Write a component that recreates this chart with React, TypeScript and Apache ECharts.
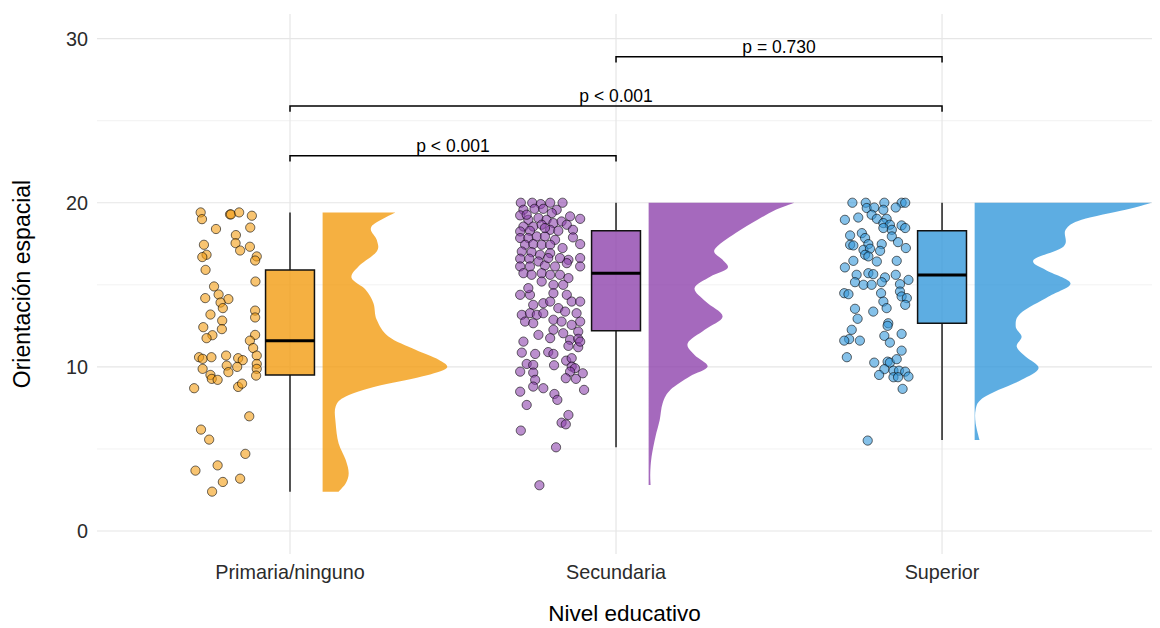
import React, { useEffect, useRef } from "react";
import * as echarts from "echarts";

const categories = ["Primaria/ninguno", "Secundaria", "Superior"];
const colors = ["#F39C12", "#8E44AD", "#3498DB"];
const yTickValues = [0, 10, 20, 30];
const yMinorGrid = [5, 15, 25];
const xGridValues = [1, 2, 3];

// jittered points: [x position (category units), Orientación espacial]
const primariaPoints: [number, number][] = [
  [0.726, 19.41], [0.730, 19.0], [0.816, 19.29], [0.819, 19.29], [0.844, 19.41], [0.883, 19.21],
  [0.773, 18.4], [0.878, 18.49], [0.834, 18.03], [0.833, 17.54], [0.847, 17.09], [0.877, 17.32],
  [0.736, 17.44], [0.744, 16.83], [0.731, 16.69], [0.898, 16.73], [0.893, 16.48], [0.741, 15.91],
  [0.894, 15.2], [0.767, 14.9], [0.740, 14.19], [0.781, 14.41], [0.811, 14.13], [0.787, 13.92],
  [0.794, 13.58], [0.893, 13.43], [0.893, 13.01], [0.756, 13.19], [0.792, 12.82], [0.734, 12.42],
  [0.791, 12.3], [0.762, 11.93], [0.744, 11.75], [0.893, 11.95], [0.877, 11.6], [0.887, 11.15],
  [0.721, 10.59], [0.732, 10.49], [0.759, 10.59], [0.804, 10.69], [0.841, 10.53], [0.855, 10.41],
  [0.898, 10.69], [0.806, 10.08], [0.838, 10.0], [0.898, 10.18], [0.898, 9.88], [0.732, 9.88],
  [0.811, 9.68], [0.896, 9.47], [0.756, 9.51], [0.760, 9.27], [0.778, 9.21], [0.841, 8.78],
  [0.853, 8.98], [0.706, 8.7], [0.875, 6.99], [0.727, 6.18], [0.752, 5.57], [0.863, 4.7],
  [0.778, 4.0], [0.710, 3.68], [0.794, 2.99], [0.847, 3.19], [0.761, 2.4],
];

const secundariaPoints: [number, number][] = [
  [1.708, 20.0], [1.743, 20.0], [1.769, 19.92], [1.798, 20.0], [1.836, 20.0], [1.716, 19.57],
  [1.750, 19.63], [1.777, 19.63], [1.818, 19.57], [1.803, 19.37], [1.706, 19.23], [1.731, 18.96],
  [1.762, 19.07], [1.787, 18.96], [1.859, 19.17], [1.890, 19.02], [1.716, 18.55], [1.746, 18.55],
  [1.772, 18.66], [1.808, 18.76], [1.833, 18.86], [1.849, 18.66], [1.706, 18.25], [1.736, 18.29],
  [1.798, 18.35], [1.823, 18.29], [1.868, 18.35], [1.706, 17.85], [1.731, 17.85], [1.757, 17.95],
  [1.782, 17.95], [1.813, 17.74], [1.868, 17.89], [1.721, 17.44], [1.746, 17.48], [1.772, 17.44],
  [1.798, 17.44], [1.890, 17.48], [1.836, 17.24], [1.711, 17.03], [1.741, 16.99], [1.767, 16.83],
  [1.798, 16.93], [1.706, 16.59], [1.734, 16.59], [1.762, 16.42], [1.854, 16.52], [1.890, 16.63],
  [1.706, 16.12], [1.736, 16.12], [1.782, 16.18], [1.813, 16.12], [1.849, 16.32], [1.890, 16.12],
  [1.716, 15.71], [1.741, 15.61], [1.772, 15.71], [1.798, 15.61], [1.828, 15.61], [1.854, 15.41],
  [1.772, 15.2], [1.808, 15.0], [1.838, 15.0], [1.706, 14.39], [1.736, 14.39], [1.808, 14.49],
  [1.849, 14.39], [1.746, 13.78], [1.777, 13.88], [1.823, 13.58], [1.864, 13.98], [1.890, 13.98],
  [1.711, 13.17], [1.736, 13.27], [1.757, 13.17], [1.777, 13.27], [1.844, 13.37], [1.721, 12.76],
  [1.746, 12.66], [1.808, 12.87], [1.833, 12.76], [1.890, 12.76], [1.864, 12.56], [1.762, 11.95],
  [1.808, 12.26], [1.838, 12.05], [1.884, 12.15], [1.859, 11.65], [1.884, 11.71], [1.711, 10.87],
  [1.752, 10.79], [1.792, 10.9], [1.808, 10.79], [1.854, 11.28], [1.884, 11.2], [1.726, 10.18],
  [1.746, 10.12], [1.810, 10.1], [1.847, 10.38], [1.864, 10.53], [1.864, 10.02], [1.874, 9.92],
  [1.706, 9.71], [1.746, 9.65], [1.859, 9.71], [1.898, 9.61], [1.752, 9.21], [1.846, 9.31],
  [1.877, 9.27], [1.746, 8.8], [1.777, 8.7], [1.706, 8.49], [1.902, 8.6], [1.811, 8.35],
  [1.820, 7.99], [1.726, 7.68], [1.854, 7.07], [1.833, 6.6], [1.846, 6.5], [1.708, 6.12],
  [1.816, 5.1], [1.765, 2.79], [1.792, 16.63], [1.828, 16.63], [1.731, 14.8], [1.798, 13.98],
  [1.879, 13.27], [1.716, 11.54], [1.798, 11.75], [1.890, 11.54], [1.782, 18.46], [1.726, 19.27],
];

const superiorPoints: [number, number][] = [
  [2.725, 20.0], [2.766, 20.0], [2.823, 20.0], [2.876, 20.0], [2.887, 20.0], [2.769, 19.68],
  [2.792, 19.71], [2.820, 19.57], [2.858, 19.71], [2.743, 19.1], [2.702, 18.96], [2.784, 19.27],
  [2.800, 19.02], [2.830, 19.02], [2.820, 18.76], [2.840, 18.66], [2.876, 18.62], [2.887, 18.46],
  [2.820, 18.46], [2.846, 18.35], [2.754, 18.15], [2.718, 18.01], [2.764, 17.85], [2.846, 17.95],
  [2.718, 17.44], [2.728, 17.4], [2.774, 17.48], [2.815, 17.48], [2.865, 17.6], [2.759, 17.13],
  [2.779, 17.2], [2.810, 17.07], [2.889, 17.24], [2.764, 16.83], [2.774, 16.73], [2.728, 16.46],
  [2.800, 16.42], [2.861, 16.46], [2.702, 16.06], [2.738, 15.61], [2.774, 15.71], [2.789, 15.65],
  [2.825, 15.45], [2.858, 15.61], [2.733, 15.16], [2.759, 15.0], [2.784, 15.0], [2.815, 15.16],
  [2.871, 15.04], [2.897, 15.3], [2.700, 14.49], [2.713, 14.43], [2.813, 14.49], [2.871, 14.59],
  [2.876, 14.29], [2.892, 14.19], [2.820, 13.98], [2.887, 13.78], [2.733, 13.54], [2.789, 13.37],
  [2.830, 13.58], [2.741, 12.93], [2.835, 12.66], [2.833, 12.5], [2.723, 12.26], [2.715, 11.69],
  [2.700, 11.6], [2.748, 11.6], [2.823, 11.89], [2.840, 11.48], [2.876, 12.01], [2.876, 10.99],
  [2.708, 10.59], [2.792, 10.26], [2.833, 10.32], [2.840, 10.26], [2.861, 10.47], [2.823, 9.86],
  [2.851, 9.77], [2.868, 9.77], [2.887, 9.71], [2.807, 9.51], [2.851, 9.37], [2.865, 9.37],
  [2.897, 9.41], [2.879, 8.66], [2.772, 5.51],
];

// box statistics: [lower whisker, Q1, median, Q3, upper whisker]
const boxStats: number[][] = [
  [2.4, 9.5, 11.6, 15.9, 19.4],
  [5.1, 12.2, 15.7, 18.3, 20.0],
  [5.55, 12.66, 15.6, 18.3, 20.0],
];

// half-violin density: [value, half width in category units]
const primariaDensity: [number, number][] = [
  [19.4, 0.223], [18.55, 0.150], [17.74, 0.166], [17.03, 0.166], [16.12, 0.110], [15.41, 0.089],
  [14.7, 0.132], [13.88, 0.156], [12.87, 0.166], [11.85, 0.202], [11.04, 0.285], [10.43, 0.356],
  [9.92, 0.380], [9.41, 0.304], [8.8, 0.163], [8.19, 0.071], [7.58, 0.040], [6.57, 0.040],
  [5.35, 0.049], [4.33, 0.071], [3.52, 0.080], [2.91, 0.071], [2.4, 0.049],
];
const secundariaDensity: [number, number][] = [
  [20.0, 0.447], [19.57, 0.390], [18.96, 0.334], [18.15, 0.267], [17.13, 0.202], [16.52, 0.227],
  [16.01, 0.242], [15.51, 0.190], [14.8, 0.141], [13.98, 0.175], [13.07, 0.227], [12.26, 0.172],
  [11.44, 0.120], [10.73, 0.141], [10.02, 0.181], [9.41, 0.126], [8.6, 0.067], [7.79, 0.043],
  [6.77, 0.034], [5.75, 0.021], [4.53, 0.009], [3.52, 0.005], [2.8, 0.006],
];
const superiorDensity: [number, number][] = [
  [20.0, 0.543], [19.57, 0.463], [18.96, 0.328], [18.35, 0.279], [17.34, 0.273], [16.52, 0.181],
  [15.91, 0.218], [15.1, 0.294], [14.29, 0.227], [13.27, 0.141], [12.46, 0.126], [11.85, 0.144],
  [11.24, 0.129], [10.63, 0.156], [9.92, 0.196], [9.21, 0.144], [8.6, 0.074], [7.99, 0.018],
  [7.38, 0.003], [6.57, 0.003], [5.55, 0.015],
];

// comparison brackets: [from category, to category, height]
const bracketPositions: number[][] = [
  [1, 2, 22.87],
  [1, 3, 25.9],
  [2, 3, 28.9],
];
const bracketLabels = ["p < 0.001", "p < 0.001", "p = 0.730"];

const FONT = "'Liberation Sans', Arial, Helvetica, sans-serif";
const VIOLIN_OFFSET = 0.1;
const BOX_HALF = 0.075;
const BRACKET_TICK = 0.35;

function rgba(hex: string, a: number) {
  const n = parseInt(hex.slice(1), 16);
  return `rgba(${(n >> 16) & 255},${(n >> 8) & 255},${n & 255},${a})`;
}

// smooth open curve through pixel points (Catmull-Rom rendered as cubic Bezier)
function curvePath(p: number[][]) {
  let d = "";
  for (let i = 0; i < p.length - 1; i++) {
    const p0 = p[Math.max(0, i - 1)];
    const p1 = p[i];
    const p2 = p[i + 1];
    const p3 = p[Math.min(p.length - 1, i + 2)];
    const c1x = p1[0] + (p2[0] - p0[0]) / 6;
    const c1y = p1[1] + (p2[1] - p0[1]) / 6;
    const c2x = p2[0] - (p3[0] - p1[0]) / 6;
    const c2y = p2[1] - (p3[1] - p1[1]) / 6;
    d += ` C ${c1x.toFixed(2)} ${c1y.toFixed(2)} ${c2x.toFixed(2)} ${c2y.toFixed(2)} ${p2[0].toFixed(2)} ${p2[1].toFixed(2)}`;
  }
  return d;
}

export default function App() {
  const ref = useRef<HTMLDivElement>(null);
  useEffect(() => {
    if (!ref.current) return;
    const chart = echarts.init(ref.current, null, { renderer: "svg" });
    const densities = [primariaDensity, secundariaDensity, superiorDensity];
    const pointSets = [primariaPoints, secundariaPoints, superiorPoints];

    const gridData: number[][] = [
      ...yTickValues.map((v) => [0, v]),
      ...yMinorGrid.map((v) => [1, v]),
      ...xGridValues.map((v) => [2, v]),
    ];

    const option: any = {
      animation: false,
      backgroundColor: "#ffffff",
      textStyle: { fontFamily: FONT },
      grid: { left: 97, right: 8, top: 14, bottom: 74, outerBoundsMode: "none", containLabel: false },
      xAxis: {
        type: "value",
        min: 0.408,
        max: 3.644,
        axisLine: { show: false },
        axisTick: { show: false },
        splitLine: { show: false },
        axisLabel: {
          customValues: xGridValues,
          formatter: (v: number) => {
            const i = Math.round(v);
            return Math.abs(v - i) < 1e-6 && i >= 1 && i <= 3 ? categories[i - 1] : "";
          },
          fontSize: 19.8,
          color: "#2b2b2b",
          margin: 8,
          fontFamily: FONT,
        },
        name: "Nivel educativo",
        nameLocation: "middle",
        nameGap: 48,
        nameTextStyle: { fontSize: 22.5, color: "#000000", fontFamily: FONT },
      },
      yAxis: {
        type: "value",
        min: -1.4,
        max: 31.5,
        axisLine: { show: false },
        axisTick: { show: false },
        splitLine: { show: false },
        axisLabel: {
          customValues: yTickValues,
          fontSize: 19.8,
          color: "#2b2b2b",
          margin: 9,
          fontFamily: FONT,
        },
        name: "Orientación espacial",
        nameLocation: "middle",
        nameGap: 64,
        nameTextStyle: { fontSize: 23, color: "#000000", fontFamily: FONT },
      },
      series: [
        {
          type: "custom",
          silent: true,
          data: gridData,
          renderItem: (params: any, api: any) => {
            const kind = api.value(0);
            const v = api.value(1);
            const cs = params.coordSys;
            if (kind === 2) {
              const x = api.coord([v, 0])[0];
              return {
                type: "line",
                shape: { x1: x, y1: cs.y, x2: x, y2: cs.y + cs.height },
                style: { stroke: "#e6e6e6", lineWidth: 1.2 },
              };
            }
            const y = api.coord([1, v])[1];
            return {
              type: "line",
              shape: { x1: cs.x, y1: y, x2: cs.x + cs.width, y2: y },
              style: { stroke: kind === 0 ? "#e6e6e6" : "#f0f0f0", lineWidth: kind === 0 ? 1.2 : 0.9 },
            };
          },
        },
        {
          type: "custom",
          silent: true,
          data: [[1, 0], [2, 0], [3, 0]],
          renderItem: (params: any, api: any) => {
            const idx = params.dataIndex;
            const c = api.value(0);
            const dens = densities[idx];
            const base = c + VIOLIN_OFFSET;
            const top = api.coord([base, dens[0][0]]);
            const bottom = api.coord([base, dens[dens.length - 1][0]]);
            const prof = dens.map(([v, w]) => api.coord([base + w, v]));
            const d =
              `M ${top[0].toFixed(2)} ${top[1].toFixed(2)} L ${prof[0][0].toFixed(2)} ${prof[0][1].toFixed(2)}` +
              curvePath(prof) +
              ` L ${bottom[0].toFixed(2)} ${bottom[1].toFixed(2)} Z`;
            return {
              type: "path",
              shape: { pathData: d },
              style: { fill: rgba(colors[idx], 0.8) },
            };
          },
        },
        ...pointSets.map((pts, i) => ({
          type: "scatter",
          silent: true,
          data: pts,
          symbol: "circle",
          symbolSize: 9.2,
          itemStyle: {
            color: rgba(colors[i], 0.75),
            borderColor: "rgba(0,0,0,0.75)",
            borderWidth: 1,
          },
        })),
        {
          type: "custom",
          silent: true,
          data: boxStats.map((s, i) => [i + 1, ...s]),
          renderItem: (params: any, api: any) => {
            const idx = params.dataIndex;
            const c = api.value(0);
            const lo = api.value(1);
            const q1 = api.value(2);
            const med = api.value(3);
            const q3 = api.value(4);
            const hi = api.value(5);
            const pLo = api.coord([c, lo]);
            const pQ1 = api.coord([c, q1]);
            const pQ3 = api.coord([c, q3]);
            const pHi = api.coord([c, hi]);
            const tl = api.coord([c - BOX_HALF, q3]);
            const br = api.coord([c + BOX_HALF, q1]);
            const mL = api.coord([c - BOX_HALF, med]);
            const mR = api.coord([c + BOX_HALF, med]);
            return {
              type: "group",
              children: [
                { type: "line", shape: { x1: pLo[0], y1: pLo[1], x2: pQ1[0], y2: pQ1[1] }, style: { stroke: "#111", lineWidth: 1.4 } },
                { type: "line", shape: { x1: pQ3[0], y1: pQ3[1], x2: pHi[0], y2: pHi[1] }, style: { stroke: "#111", lineWidth: 1.4 } },
                {
                  type: "rect",
                  shape: { x: tl[0], y: tl[1], width: br[0] - tl[0], height: br[1] - tl[1] },
                  style: { fill: rgba(colors[idx], 0.8), stroke: "#111", lineWidth: 1.5 },
                },
                { type: "line", shape: { x1: mL[0], y1: mL[1], x2: mR[0], y2: mR[1] }, style: { stroke: "#000", lineWidth: 3 } },
              ],
            };
          },
        },
        {
          type: "custom",
          silent: true,
          data: bracketPositions,
          renderItem: (params: any, api: any) => {
            const idx = params.dataIndex;
            const a = api.value(0);
            const b = api.value(1);
            const h = api.value(2);
            const p1 = api.coord([a, h - BRACKET_TICK]);
            const p2 = api.coord([a, h]);
            const p3 = api.coord([b, h]);
            const p4 = api.coord([b, h - BRACKET_TICK]);
            const mid = api.coord([(a + b) / 2, h]);
            return {
              type: "group",
              children: [
                { type: "polyline", shape: { points: [p1, p2, p3, p4] }, style: { stroke: "#000", lineWidth: 1.5, fill: "none" } },
                {
                  type: "text",
                  x: mid[0],
                  y: mid[1] - 1,
                  style: {
                    text: bracketLabels[idx],
                    fill: "#000",
                    fontSize: 17.5,
                    fontFamily: FONT,
                    align: "center",
                    verticalAlign: "bottom",
                  },
                },
              ],
            };
          },
        },
      ],
    };
    chart.setOption(option);
    return () => chart.dispose();
  }, []);
  return <div ref={ref} style={{ position: "absolute", left: 0, top: 0, width: 1160, height: 628 }} />;
}
